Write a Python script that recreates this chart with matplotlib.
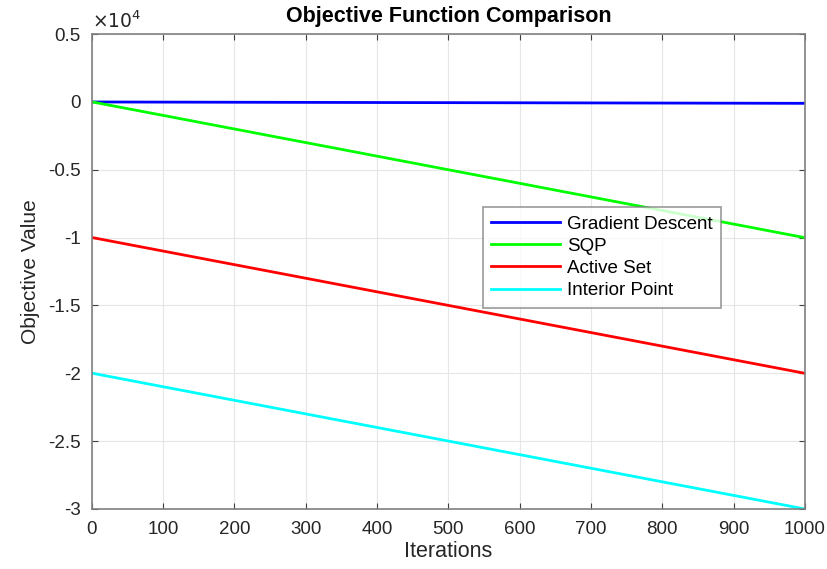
import matplotlib
matplotlib.use("Agg")
import matplotlib.pyplot as plt
from matplotlib.ticker import FuncFormatter, MultipleLocator

plt.rcParams["font.family"] = ["Liberation Sans", "DejaVu Sans"]

iterations = [1, 1000]
gradient_descent = [0, -100]
sqp = [0, -10000]
active_set = [-10000, -20000]
interior_point = [-20000, -30000]

series = [
    ("Gradient Descent", gradient_descent, "#0000ff"),
    ("SQP", sqp, "#00ff00"),
    ("Active Set", active_set, "#ff0000"),
    ("Interior Point", interior_point, "#00ffff"),
]

fig = plt.figure(figsize=(8.28, 5.69), dpi=100)
ax = fig.add_axes([0.111, 0.1055, 0.861, 0.8345])

for name, vals, color in series:
    ax.plot(iterations, vals, color=color, lw=2, label=name)

ax.set_xlim(0, 1000)
ax.set_ylim(-30000, 5000)
ax.xaxis.set_major_locator(MultipleLocator(100))
ax.yaxis.set_major_locator(MultipleLocator(5000))

ax.yaxis.set_major_formatter(FuncFormatter(lambda v, p: f"{v / 1e4:g}"))
ax.xaxis.set_major_formatter(FuncFormatter(lambda v, p: f"{int(v)}"))

ax.grid(True, color="#e6e6e6", lw=0.8)
ax.set_axisbelow(True)
for sp in ax.spines.values():
    sp.set_color("#808080")
    sp.set_linewidth(1.2)
ax.tick_params(direction="in", length=4, colors="#262626", labelsize=13.5,
               top=True, right=True)
ax.tick_params(axis="x", pad=9)
ax.tick_params(axis="y", pad=8)
ax.tick_params(axis="both", which="both", color="#404040")

ax.set_title("Objective Function Comparison", fontsize=15.5, fontweight="bold", pad=9)
ax.set_xlabel("Iterations", fontsize=15.5, color="#262626", labelpad=2)
ax.set_ylabel("Objective Value", fontsize=15, color="#262626", labelpad=6)
ax.text(0.0, 1.004, r"$\times10^4$", transform=ax.transAxes, fontsize=13.5,
        color="#262626", ha="left", va="bottom")

leg = ax.legend(loc="upper left", bbox_to_anchor=(0.548, 0.636), fontsize=13.5,
                frameon=True, fancybox=False, edgecolor="#808080",
                handlelength=3.7, handletextpad=0.35, borderpad=0.45,
                labelspacing=0.27, borderaxespad=0)
leg.get_frame().set_linewidth(1.2)

fig.savefig("out.png", dpi=100)
